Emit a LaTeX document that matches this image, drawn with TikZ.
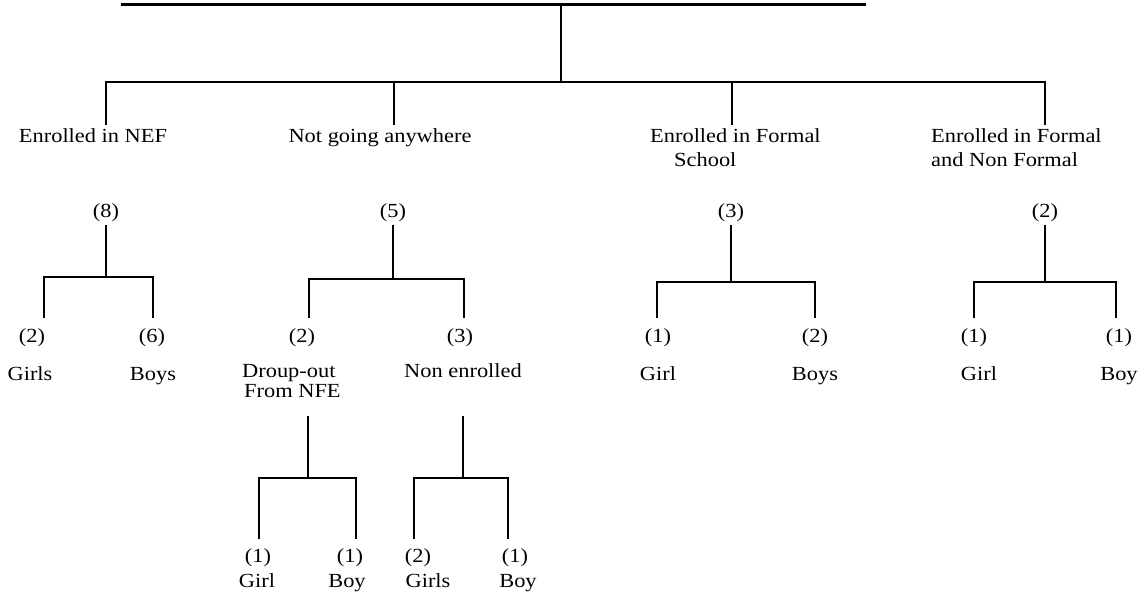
\documentclass[tikz,border=0pt]{standalone}
\usepackage{fontspec}
\setmainfont{Liberation Serif}[FakeStretch=1.12]
\begin{document}
\begin{tikzpicture}[x=1pt,y=-1pt,
  lbl/.style={inner sep=0pt, anchor=base, font=\fontsize{20}{24}\selectfont},
  lblw/.style={lbl, anchor=base west, align=left},
  wire/.style={line width=1.7pt, line cap=rect},
  rule/.style={line width=3pt}]
\useasboundingbox (0,0) rectangle (1139,591);

% heading rule and the main stem
\coordinate (tl) at (121,4.5);
\coordinate (tr) at (866,4.5);
\draw[rule] (tl) -- (tr);
\coordinate (root) at (561,4.5);
\coordinate (hub) at (561,82);
\draw[wire] (root) -- (hub);

% first-level bar and its four drops
\coordinate (h1) at (106,82);
\coordinate (h2) at (394,82);
\coordinate (h3) at (732,82);
\coordinate (h4) at (1045,82);
\draw[wire] (h1) -- (h4);
\foreach \i in {1,...,4} \draw[wire] (h\i) -- ++(0,42);

% category labels (a multi-line label is placed by its last baseline)
\node[lbl] (cat1) at (93,142) {Enrolled in NEF};
\node[lbl] (cat2) at (380,142) {Not going anywhere};
\node[lblw] (cat3) at (650,166) {Enrolled in Formal\\\hspace*{24pt}School};
\node[lblw] (cat4) at (931,166) {Enrolled in Formal\\and Non Formal};

% category counts
\node[lbl] (n1) at (106,217) {(8)};
\node[lbl] (n2) at (393,217) {(5)};
\node[lbl] (n3) at (731,217) {(3)};
\node[lbl] (n4) at (1045,217) {(2)};

% junctions of the second-level brackets
\coordinate (j1) at (106,277);
\coordinate (j2) at (393,279);
\coordinate (j3) at (731,282);
\coordinate (j4) at (1045,282);
\coordinate (a1) at (44,317);  \coordinate (b1) at (153,317);
\coordinate (a2) at (309,317); \coordinate (b2) at (464,317);
\coordinate (a3) at (657,317); \coordinate (b3) at (815,317);
\coordinate (a4) at (974,317); \coordinate (b4) at (1116,317);
\foreach \i in {1,...,4} {
  \draw[wire] ([yshift=-4pt]n\i.south) -- (j\i);
  \draw[wire] (a\i) |- (j\i) -| (b\i);
}

% Enrolled in NEF
\node[lbl] (g1c) at (32,342) {(2)};
\node[lbl] (b1c) at (152,342) {(6)};
\node[lbl] (g1) at (30,380) {Girls};
\node[lbl] (b1n) at (153,380) {Boys};

% Not going anywhere
\node[lbl] (d1c) at (302,342) {(2)};
\node[lbl] (e1c) at (460,342) {(3)};
\node[lblw] (drop) at (242,397) {Droup-out\\[-4pt]\hspace*{2pt}From NFE};
\node[lbl] (non) at (463,377) {Non enrolled};

% third-level brackets under the two sub-groups
\coordinate (t5) at (308,417);
\coordinate (j5) at (308,478);
\coordinate (a5) at (259,538); \coordinate (b5) at (356,538);
\coordinate (t6) at (463,417);
\coordinate (j6) at (463,478);
\coordinate (a6) at (414,538); \coordinate (b6) at (508,538);
\foreach \i in {5,6} {
  \draw[wire] (t\i) -- (j\i);
  \draw[wire] (a\i) |- (j\i) -| (b\i);
}

\node[lbl] (g5c) at (258,562) {(1)};
\node[lbl] (b5c) at (350,562) {(1)};
\node[lbl] (g5) at (257,587) {Girl};
\node[lbl] (b5n) at (347,587) {Boy};
\node[lbl] (g6c) at (418,562) {(2)};
\node[lbl] (b6c) at (515,562) {(1)};
\node[lbl] (g6) at (428,587) {Girls};
\node[lbl] (b6n) at (518,587) {Boy};

% Enrolled in Formal School
\node[lbl] (g3c) at (658,342) {(1)};
\node[lbl] (b3c) at (815,342) {(2)};
\node[lbl] (g3) at (658,380) {Girl};
\node[lbl] (b3n) at (815,380) {Boys};

% Enrolled in Formal and Non Formal
\node[lbl] (g4c) at (974,342) {(1)};
\node[lbl] (b4c) at (1119,342) {(1)};
\node[lbl] (g4) at (979,380) {Girl};
\node[lbl] (b4n) at (1119,380) {Boy};
\end{tikzpicture}
\end{document}
